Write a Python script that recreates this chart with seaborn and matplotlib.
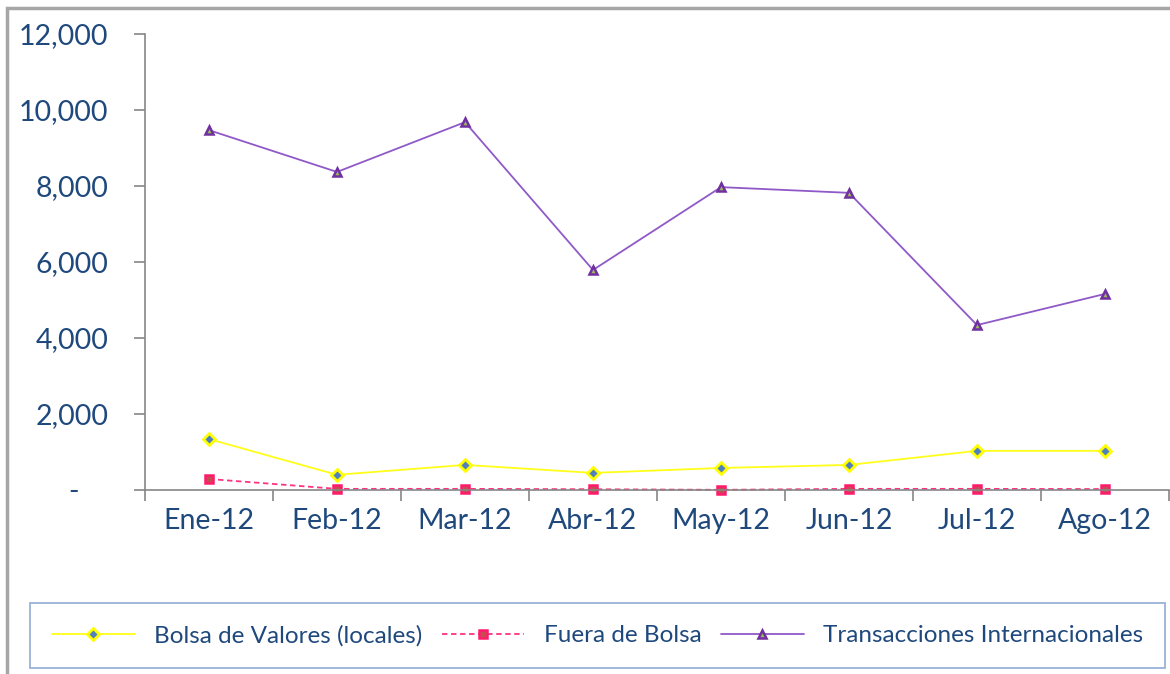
import numpy as np
import pandas as pd
import matplotlib
matplotlib.use("Agg")
import matplotlib.pyplot as plt
from matplotlib.patches import Rectangle
from matplotlib.ticker import FuncFormatter
import seaborn as sns

meses = ['Ene-12', 'Feb-12', 'Mar-12', 'Abr-12', 'May-12', 'Jun-12', 'Jul-12', 'Ago-12']
bolsa_valores = [1340, 400, 660, 450, 580, 660, 1030, 1030]
fuera_bolsa = [290, 30, 30, 20, 5, 30, 30, 25]
transacciones = [9470, 8370, 9680, 5790, 7970, 7820, 4340, 5160]

TEXT_COLOR = '#1f497d'
AXIS_COLOR = '#868686'

sns.set_theme(style='white')
plt.rcParams['font.family'] = ['Lato', 'DejaVu Sans']

df = pd.DataFrame({
    'pos': np.arange(len(meses)),
    'Bolsa de Valores (locales)': bolsa_valores,
    'Fuera de Bolsa': fuera_bolsa,
    'Transacciones Internacionales': transacciones,
})

fig = plt.figure(figsize=(11.70, 6.74), dpi=100)
ax = fig.add_axes([145 / 1170, 1 - 490 / 674, 1024 / 1170, 456 / 674])

series = [
    ('Bolsa de Valores (locales)', dict(color='#ffff1a', marker='D', markersize=6,
                                        markerfacecolor='#4f81bd', markeredgecolor='#ffff00',
                                        markeredgewidth=2, linestyle='-', linewidth=1.3)),
    ('Fuera de Bolsa', dict(color='#ff3380', marker='s', markersize=6,
                            markerfacecolor='#c0504d', markeredgecolor='#ff1a6e',
                            markeredgewidth=1.8, linestyle=(0, (3, 2)), linewidth=1.3)),
    ('Transacciones Internacionales', dict(color='#9059c8', marker='^', markersize=6,
                                           markerfacecolor='#9bbb59', markeredgecolor='#7030a0',
                                           markeredgewidth=1.8, linestyle='-', linewidth=1.3)),
]

for name, style in series:
    sns.lineplot(data=df, x='pos', y=name, ax=ax, label=name, **style)

ax.set_xlim(-0.5, len(meses) - 0.5)
ax.set_ylim(0, 12000)
ax.set_xlabel('')
ax.set_ylabel('')

ax.set_xticks(df['pos'])
ax.set_xticklabels(meses)
ax.set_xticks(np.arange(-0.5, len(meses), 1), minor=True)
ax.tick_params(axis='x', which='major', length=0, pad=13, labelsize=20.5, labelcolor=TEXT_COLOR)
ax.tick_params(axis='x', which='minor', length=8, width=1.2, color=AXIS_COLOR, direction='out', bottom=True)

ax.set_yticks(np.arange(0, 12001, 2000))
ax.yaxis.set_major_formatter(FuncFormatter(lambda v, p: '-    ' if v == 0 else f'{v:,.0f}'))
ax.tick_params(axis='y', length=8, width=1.2, color=AXIS_COLOR, direction='out', left=True,
               pad=18.5, labelsize=20.5, labelcolor=TEXT_COLOR)

for side in ['top', 'right']:
    ax.spines[side].set_visible(False)
for side in ['left', 'bottom']:
    ax.spines[side].set_color(AXIS_COLOR)
    ax.spines[side].set_linewidth(1.2)
for line in ax.lines:
    line.set_clip_on(False)

handles, labels = ax.get_legend_handles_labels()
ax.get_legend().remove()
leg = fig.legend(handles, labels, loc='lower left', ncol=3, mode='expand',
                 bbox_to_anchor=(30 / 1170, 6 / 674, 1135 / 1170, 68 / 674),
                 borderaxespad=0, frameon=True, fancybox=False, fontsize=17.5,
                 handlelength=3.4, handletextpad=0.8, borderpad=0.9, labelcolor=TEXT_COLOR)
leg.get_frame().set_edgecolor('#7f9fcf')
leg.get_frame().set_linewidth(1.3)

# outer chart border (left and top edges visible)
fig.patches.append(Rectangle((7 / 1170, -0.05), 1.2, 1 - 8 / 674 + 0.05,
                             transform=fig.transFigure, fill=False,
                             edgecolor='#a6a6a6', linewidth=2.5))

fig.savefig('out.png', dpi=100, facecolor='white')
